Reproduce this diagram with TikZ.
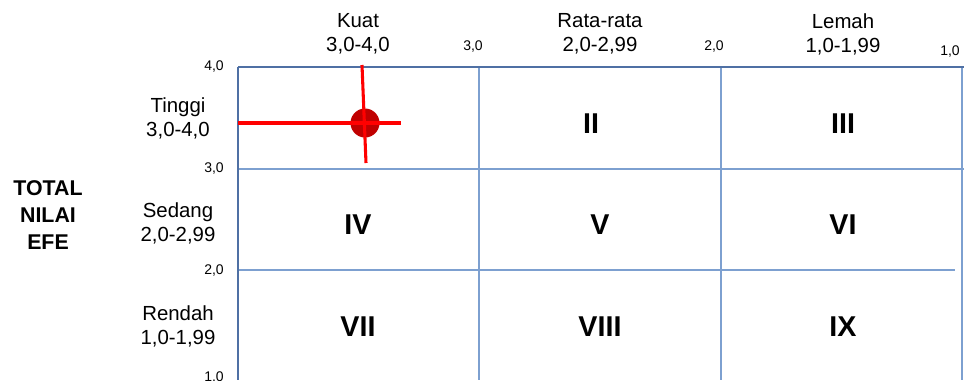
\documentclass[tikz,border=0pt]{standalone}
\usepackage{fontspec}
\setmainfont{Liberation Sans}
\definecolor{outerblue}{RGB}{79,112,164}
\definecolor{innerblue}{RGB}{125,160,208}
\definecolor{dotred}{RGB}{192,0,0}
\begin{document}
\begin{tikzpicture}[x=0.75pt,y=-0.75pt,
  lab/.style={align=center,inner sep=0pt,font=\fontsize{15.3}{18}\selectfont},
  tick/.style={inner sep=0pt,font=\fontsize{10.5}{12}\selectfont},
  roman/.style={inner sep=0pt,font=\fontsize{21.5}{24}\selectfont\bfseries},
  outerline/.style={draw=outerblue,line width=2pt},
  innerline/.style={draw=innerblue,line width=1pt},
  redline/.style={draw=red,line width=2.3pt}]
\useasboundingbox (0,0) rectangle (964,380);
% grid
\draw[innerline] (479,67) -- (479,380);
\draw[innerline] (721,67) -- (721,380);
\draw[innerline] (962,67) -- (962,380);
\draw[innerline] (238,169) -- (964,169);
\draw[innerline] (238,270) -- (955,270);
\draw[outerline] (238,67) -- (964,67);
\draw[outerline] (238,67) -- (238,380);
% column headers
\node[lab] (kuat) at (358,34) {Kuat\\3,0-4,0};
\node[lab] (rata) at (600,34) {Rata-rata\\2,0-2,99};
\node[lab] (lemah) at (843,34) {Lemah\\1,0-1,99};
% top ticks
\node[tick] (t3) at (473,47) {3,0};
\node[tick] (t2) at (714,47) {2,0};
\node[tick] (t1) at (950,52) {1,0};
% row labels
\node[lab] (tinggi) at (178,118) {Tinggi\\3,0-4,0};
\node[lab] (sedang) at (178,223) {Sedang\\2,0-2,99};
\node[lab] (rendah) at (178,326) {Rendah\\1,0-1,99};
% left ticks
\node[tick] (l4) at (214,66) {4,0};
\node[tick] (l3) at (214,168) {3,0};
\node[tick] (l2) at (214,270) {2,0};
\node[tick] (l1) at (214,377) {1,0};
% axis title
\node[align=center,inner sep=0pt,font=\fontsize{16}{20.2}\selectfont\bfseries] (efe) at (48,215) {TOTAL\\NILAI\\EFE};
% cell numerals
\node[roman] (c2) at (591,124) {II};
\node[roman] (c3) at (843,124) {III};
\node[roman] (c4) at (358,225) {IV};
\node[roman] (c5) at (600,225) {V};
\node[roman] (c6) at (843,225) {VI};
\node[roman] (c7) at (358,327) {VII};
\node[roman] (c8) at (600,327) {VIII};
\node[roman] (c9) at (843,327) {IX};
% position marker
\node[circle,fill=dotred,minimum size=29*0.75pt,inner sep=0pt] (dot) at (365,123) {};
\coordinate (hl) at (238,123);
\coordinate (hr) at (401,123);
\coordinate (vt) at (362,65);
\coordinate (vb) at (366,163);
\draw[redline] (hl) -- (hr);
\draw[redline] (vt) -- (vb);
\end{tikzpicture}
\end{document}
